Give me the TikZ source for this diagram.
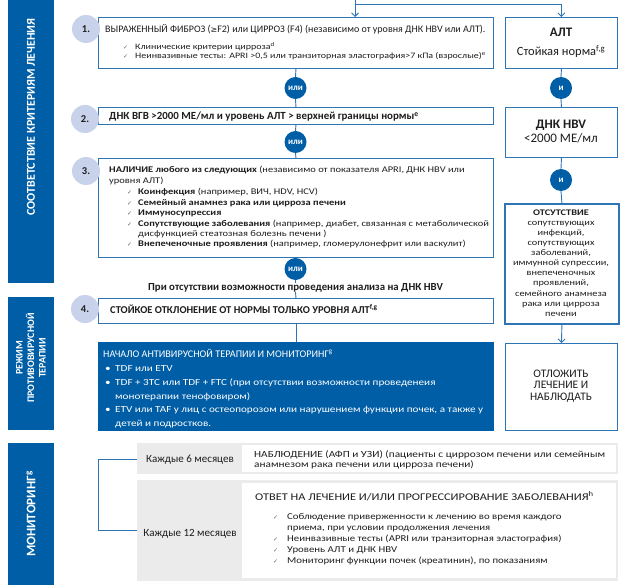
\documentclass[tikz,border=0pt]{standalone}
\usepackage{fontspec}
\setmainfont{Carlito}
\newfontfamily\sfont{Carlito}[FakeStretch=1.2]
\newfontfamily\dejavu{DejaVu Sans}
\usetikzlibrary{arrows.meta}
\definecolor{dblue}{RGB}{0,94,166}
\definecolor{lblue}{RGB}{46,117,182}
\definecolor{cblue}{RGB}{200,210,234}
\definecolor{gbox}{RGB}{235,235,235}
\definecolor{txt}{RGB}{30,30,30}
\tikzset{
 band/.style={fill=dblue, draw=none, anchor=north west, inner sep=0pt},
 bandtext/.style={rotate=90, text=white, font=\bfseries\fontsize{12}{13}\selectfont, align=center, inner sep=0pt},
 frame/.style={draw=lblue, line width=0.9pt, fill=white, anchor=north west, inner sep=0pt},
 numc/.style={circle, fill=cblue, minimum size=28pt, inner sep=0pt, font=\bfseries\fontsize{10.5}{12}\selectfont, text=txt},
 orc/.style={circle, fill=dblue, minimum size=22pt, inner sep=0pt, text=white, font=\bfseries\fontsize{9}{9}\selectfont},
 conn/.style={draw=lblue, line width=0.9pt},
 arr/.style={conn, -{Straight Barb[length=3.5pt,width=7pt]}},
 tl/.style={anchor=base west, inner sep=0pt, text=txt, font=\fontsize{10}{11}\selectfont},
 tb1/.style={tl, font=\sfont\fontsize{8.3}{9}\selectfont},
 tb3/.style={tl, font=\sfont\fontsize{8.7}{10}\selectfont},
 tm1/.style={tl, font=\sfont\fontsize{9.4}{10}\selectfont},
 tm2/.style={tl, font=\sfont\fontsize{9}{11}\selectfont},
 tc/.style={anchor=base, inner sep=0pt, text=txt, font=\fontsize{10}{11}\selectfont},
 tw/.style={anchor=base west, inner sep=0pt, text=white, font=\sfont\fontsize{9.3}{12}\selectfont},
 chk/.style={anchor=base west, inner sep=0pt, text=black!60, font=\dejavu\fontsize{6}{7}\selectfont},
 gray box/.style={fill=gbox, draw=none, anchor=north west, inner sep=0pt},
 white box/.style={fill=white, draw=none, anchor=north west, inner sep=0pt},
}
\begin{document}
\begin{tikzpicture}[x=1pt,y=-1pt]
\useasboundingbox (0,0) rectangle (628,585);
% ---------- left bands
\node[band, minimum width=46pt, minimum height=283pt] (band1) at (8,0) {};
\node[bandtext] (band1t) at (31,117) {СООТВЕТСТВИЕ КРИТЕРИЯМ ЛЕЧЕНИЯ};
\node[band, minimum width=46pt, minimum height=133pt] (band2) at (8,297) {};
\node[bandtext, font=\bfseries\fontsize{10}{11.5}\selectfont] (band2t) at (31,358) {РЕЖИМ\\ПРОТИВОВИРУСНОЙ\\ТЕРАПИИ};
\node[band, minimum width=46pt, minimum height=142pt] (band3) at (8,443) {};
\node[bandtext, font=\bfseries\fontsize{13}{14}\selectfont] (band3t) at (31,514) {МОНИТОРИНГ\textsuperscript{g}};
% ---------- coordinates for top feed
\coordinate (top) at (355,0);
\coordinate (split) at (355,4);
% ---------- boxes (left column)
\node[frame, minimum width=395pt, minimum height=51pt] (box1) at (98,17) {};
\node[frame, minimum width=395pt, minimum height=17pt] (box2) at (98,107) {};
\node[frame, minimum width=395pt, minimum height=99pt] (box3) at (98,158) {};
\node[frame, minimum width=395pt, minimum height=25pt] (box4) at (98,298) {};
\node[frame, fill=dblue, draw=dblue, minimum width=395pt, minimum height=88pt] (treat) at (98,342) {};
% ---------- boxes (right column)
\node[frame, minimum width=112pt, minimum height=51pt] (alt) at (505,17) {};
\node[frame, minimum width=112pt, minimum height=50pt] (dnk) at (505,107) {};
\node[frame, line width=1.8pt, minimum width=114pt, minimum height=120pt] (absent) at (504,203) {};
\node[frame, minimum width=112pt, minimum height=87pt] (post) at (505,343) {};
% ---------- or / and circles
\node[orc] (or1) at (295.5,88) {или};
\node[orc] (or2) at (295.5,142) {или};
\node[orc] (or3) at (295.5,269) {или};
\node[orc] (and1) at (561,88) {и};
\node[orc] (and2) at (561,180) {и};
% ---------- connectors
\draw[conn] (top) -- (split) -- (split -| alt.north);
\draw[arr] (split -| alt.north) -- (alt.north);
\draw[arr] (split) -- (split |- box1.north);
\draw[conn] (box1.south) -- (or1.north);
\draw[conn] (or1.south) -- (box2.north);
\draw[conn] (box2.south) -- (or2.north);
\draw[conn] (or2.south) -- (box3.north);
\draw[conn] (box3.south) -- (or3.north);
\node[tc, font=\bfseries\fontsize{10.8}{11}\selectfont] (notest) at (295.5,290) {При отсутствии возможности проведения анализа на ДНК HBV};
\draw[conn] (or3.south) -- (notest.north);
\draw[conn] (notest.south) -- (box4.north);
\draw[conn] (box4.south) -- (treat.north);
\draw[conn] (alt.south) -- (and1.north);
\draw[conn] (and1.south) -- (dnk.north);
\draw[conn] (dnk.south) -- (and2.north);
\draw[conn] (and2.south) -- (absent.north);
\draw[arr] (absent.south) -- (post.north);
% ---------- number circles
\node[numc] (n1) at (86,29) {1.};
\node[numc] (n2) at (85,119) {2.};
\node[numc] (n3) at (86,171) {3.};
\node[numc] (n4) at (85,309) {4.};
% ---------- box 1 text
\node[tl] (b1a) at (105,33) {ВЫРАЖЕННЫЙ ФИБРОЗ ({\dejavu\fontsize{8}{9}\selectfont ≥}F2) или ЦИРРОЗ (F4) (независимо от уровня ДНК HBV или АЛТ).};
\node[chk] (b1c1) at (123,49.5) {✓};
\node[tb1] (b1b) at (135,49.5) {Клинические критерии цирроза\textsuperscript{d}};
\node[chk] (b1c2) at (123,58.5) {✓};
\node[tb1] (b1c) at (135,58.5) {Неинвазивные тесты: APRI >0,5 или транзиторная эластография>7 кПа (взрослые)\textsuperscript{e}};
% ---------- box 2 text
\node[tl, font=\bfseries\fontsize{10.9}{12}\selectfont] (b2a) at (109,120) {ДНК ВГВ >2000 МЕ/мл и уровень АЛТ > верхней границы нормы\textsuperscript{e}};
% ---------- box 3 text
\node[tb3] (b3a) at (109,173) {\textbf{НАЛИЧИЕ любого из следующих} (независимо от показателя APRI, ДНК HBV или};
\node[tb3] (b3b) at (109,184) {уровня АЛТ)};
\node[chk] (b3c1) at (127,195) {✓};
\node[tb3] (b3t1) at (138,195) {\textbf{Коинфекция} (например, ВИЧ, HDV, HCV)};
\node[chk] (b3c2) at (127,205.5) {✓};
\node[tb3] (b3t2) at (138,205.5) {\textbf{Семейный анамнез рака или цирроза печени}};
\node[chk] (b3c3) at (127,215.8) {✓};
\node[tb3] (b3t3) at (138,215.8) {\textbf{Иммуносупрессия}};
\node[chk] (b3c4) at (127,226) {✓};
\node[tb3] (b3t4) at (138,226) {\textbf{Сопутствующие заболевания} (например, диабет, связанная с метаболической};
\node[tb3] (b3t5) at (138,236.2) {дисфункцией стеатозная болезнь печени )};
\node[chk] (b3c6) at (127,246.4) {✓};
\node[tb3] (b3t6) at (138,246.4) {\textbf{Внепеченочные проявления} (например, гломерулонефрит или васкулит)};
% ---------- box 4 text
\node[tl, font=\bfseries\fontsize{10.5}{11}\selectfont] (b4a) at (110,313) {СТОЙКОЕ ОТКЛОНЕНИЕ ОТ НОРМЫ ТОЛЬКО УРОВНЯ АЛТ\textsuperscript{f,g}};
% ---------- treatment text
\node[tw, font=\fontsize{10.2}{12}\selectfont] (trt) at (103,357) {НАЧАЛО АНТИВИРУСНОЙ ТЕРАПИИ И МОНИТОРИНГ\textsuperscript{g}};
\node[tw] (trb1) at (105,371) {•};
\node[tw] (trl1) at (115,371) {TDF или ETV};
\node[tw] (trb2) at (105,385) {•};
\node[tw] (trl2) at (115,385) {TDF + 3TC или TDF + FTC (при отсутствии возможности проведенеия};
\node[tw] (trl3) at (115,399) {монотерапии тенофовиром)};
\node[tw] (trb3) at (105,412) {•};
\node[tw] (trl4) at (115,412) {ETV или TAF у лиц с остеопорозом или нарушением функции почек, а также у};
\node[tw] (trl5) at (115,426) {детей и подростков.};
% ---------- right column text
\node[tc, font=\bfseries\fontsize{13}{14}\selectfont] (altt) at (561,37) {АЛТ};
\node[tc, font=\fontsize{12.5}{14}\selectfont] (alts) at (561,56) {Стойкая норма\textsuperscript{f,g}};
\node[tc, font=\bfseries\fontsize{13}{14}\selectfont] (dnkt) at (561,129) {ДНК HBV};
\node[tc, font=\fontsize{13}{14}\selectfont] (dnks) at (561,142.5) {<2000 МЕ/мл};
\node[align=center, inner sep=0pt, text=txt, font=\sfont\fontsize{8.6}{10.1}\selectfont] (abst) at (561,263) {\textbf{ОТСУТСТВИЕ}\\сопутствующих\\инфекций,\\сопутствующих\\заболеваний,\\иммунной супрессии,\\внепеченочных\\проявлений,\\семейного анамнеза\\рака или цирроза\\печени};
\node[align=center, inner sep=0pt, text=txt, font=\fontsize{11.5}{11.7}\selectfont] (postt) at (561,386) {ОТЛОЖИТЬ\\ЛЕЧЕНИЕ И\\НАБЛЮДАТЬ};
% ---------- monitoring
\node[gray box, minimum width=481pt, minimum height=31pt] (g1) at (137,443) {};
\node[white box, minimum width=374pt, minimum height=27pt] (w1) at (242,445) {};
\node[gray box, minimum width=481pt, minimum height=101pt] (g2) at (137,480) {};
\node[white box, minimum width=374pt, minimum height=95pt] (w2) at (242,483) {};
\coordinate (br1) at (98,459);
\coordinate (br2) at (98,530);
\draw[conn] (g1.west |- br1) -- (br1) -- (br2) -- (g2.west |- br2);
\node[tc, font=\fontsize{11}{12}\selectfont] (m6) at (190,462.5) {Каждые 6 месяцев};
\node[tc, font=\fontsize{11}{12}\selectfont] (m12) at (190,536.5) {Каждые 12 месяцев};
\node[tm1] (w1a) at (254,457) {НАБЛЮДЕНИЕ (АФП и УЗИ) (пациенты с циррозом печени или семейным};
\node[tm1] (w1b) at (254,467.5) {анамнезом рака печени или цирроза печени)};
\node[tl, font=\sfont\fontsize{10.3}{12}\selectfont] (w2t) at (255,500.5) {ОТВЕТ НА ЛЕЧЕНИЕ И/ИЛИ ПРОГРЕССИРОВАНИЕ ЗАБОЛЕВАНИЯ\textsuperscript{h}};
\node[chk] (w2c1) at (273,519.5) {✓};
\node[tm2] (w2l1) at (287,519.5) {Соблюдение приверженности к лечению во время каждого};
\node[tm2] (w2l2) at (287,530.5) {приема, при условии продолжения лечения};
\node[chk] (w2c3) at (273,541.5) {✓};
\node[tm2] (w2l3) at (287,541.5) {Неинвазивные тесты (APRI или транзиторная эластография)};
\node[chk] (w2c4) at (273,552.5) {✓};
\node[tm2] (w2l4) at (287,552.5) {Уровень АЛТ и ДНК HBV};
\node[chk] (w2c5) at (273,563.5) {✓};
\node[tm2] (w2l5) at (287,563.5) {Мониторинг функции почек (креатинин), по показаниям};
\end{tikzpicture}
\end{document}
